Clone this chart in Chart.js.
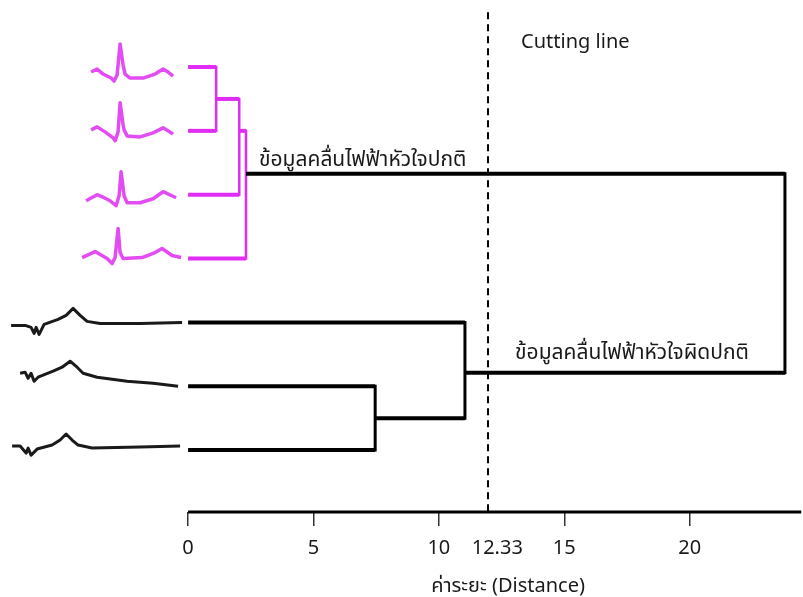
<!DOCTYPE html>
<html>
<head>
<meta charset="utf-8">
<script src="https://cdn.jsdelivr.net/npm/chart.js@4/dist/chart.umd.min.js"></script>
<style>
  html, body { margin: 0; padding: 0; background: #fff; }
  #wrap { width: 803px; height: 597px; }
</style>
</head>
<body>
<div id="wrap"><canvas id="dendro"></canvas></div>
<script>
// --- axis ticks ---
const tickValues = [0, 5, 10, 12.33, 15, 20];
const cutLineAt = 11.96;
const axisTitle = 'ค่าระยะ (Distance)';

// --- leaves (rows from top) ---
const leafRows = [0, 1, 2, 3, 4, 5, 6];

// --- merges: children, distance, row of merged node ---
const mergeLeft = ['L0', 'M0', 'M1', 'L5', 'L4', 'M2'];
const mergeRight = ['L1', 'L2', 'L3', 'L6', 'M3', 'M4'];
const mergeDistance = [1.12, 2.04, 2.31, 7.46, 11.04, 23.8];
const mergeRow = [0.5, 1.0, 1.67, 5.5, 4.79, null];
const mergeGroup = ['normal', 'normal', 'normal', 'abnormal', 'abnormal', 'root'];

// --- ECG traces: [time, amplitude] ---
const ecgNormal1 = [[-97,-5],[-91,-2],[-85,-7],[-77,-11],[-74,-14],[-71,-8],[-68,23],[-65,2],[-63,-7],[-58,-11],[-45,-11],[-33,-7],[-25,-2],[-20,-5],[-15,-9]];
const ecgNormal2 = [[-97,1],[-91,4],[-83,-1],[-75,-7],[-73,-10],[-70,-1],[-68,28],[-65,6],[-64,1],[-61,-5],[-48,-6],[-35,-2],[-25,3],[-15,-3]];
const ecgNormal3 = [[-102,-6],[-91,0],[-84,-3],[-78,-6],[-72,-11],[-69,-1],[-67,23],[-64,-1],[-61,-8],[-48,-8],[-35,-4],[-25,3],[-12,-3]];
const ecgNormal4 = [[-106,1],[-93,7],[-81,0],[-76,-5],[-73,1],[-70,30],[-68,6],[-65,0],[-46,1],[-33,6],[-26,10],[-16,3],[-7,1]];
const ecgAbnormal1 = [[-177,-3],[-163,-3],[-157,-5],[-154,-11],[-152,-5],[-149,-12],[-144,-2],[-130,3],[-122,7],[-115,14],[-108,7],[-101,1],[-88,-1],[-48,-1],[-6,0]];
const ecgAbnormal2 = [[-168,13],[-163,14],[-160,8],[-157,13],[-154,5],[-150,9],[-135,15],[-126,19],[-118,25],[-111,19],[-105,13],[-91,9],[-61,5],[-35,3],[-10,0]];
const ecgAbnormal3 = [[-176,4],[-168,4],[-162,-3],[-160,2],[-157,-5],[-151,1],[-136,5],[-128,10],[-122,16],[-116,10],[-110,5],[-96,2],[-48,3],[-8,4]];

const ecgTraces = [ecgNormal1, ecgNormal2, ecgNormal3, ecgNormal4, ecgAbnormal1, ecgAbnormal2, ecgAbnormal3];
const traceTimeScale = 1 / 25.08;   // distance units per time unit
const traceAmpScale = 1 / 63.7;     // rows per amplitude unit

const MAGENTA = '#e02cf5';
const MAGENTA_TRACE = '#e24cf2';
const BLACK = '#000000';

const fontFamily = "'Noto Sans', 'Noto Sans Thai', 'DejaVu Sans', sans-serif";

// --- build datasets ---
const nodeInfo = (id) => {
  const i = parseInt(id.slice(1), 10);
  if (id[0] === 'L') return { row: leafRows[i], dist: 0 };
  return { row: mergeRow[i], dist: mergeDistance[i] };
};

const horizontals = [];
const verticals = [];
mergeDistance.forEach((d, i) => {
  const color = mergeGroup[i] === 'normal' ? MAGENTA : BLACK;
  const a = nodeInfo(mergeLeft[i]);
  const b = nodeInfo(mergeRight[i]);
  [a, b].forEach(c => {
    horizontals.push({
      data: [{ x: c.dist, y: c.row }, { x: d, y: c.row }],
      borderColor: color, borderWidth: 4, borderCapStyle: 'butt'
    });
  });
  verticals.push({
    data: [{ x: d, y: a.row }, { x: d, y: b.row }],
    borderColor: color, borderWidth: mergeGroup[i] === 'normal' ? 2.5 : 3, borderCapStyle: 'square'
  });
});

const traces = ecgTraces.map((tr, i) => ({
  data: tr.map(p => ({ x: p[0] * traceTimeScale, y: leafRows[i] - p[1] * traceAmpScale })),
  borderColor: i < 4 ? MAGENTA_TRACE : '#1a1a1a',
  borderWidth: i < 4 ? 3.5 : 3,
  borderJoinStyle: 'round'
}));

const cutDataset = {
  data: [{ x: cutLineAt, y: -0.86 }, { x: cutLineAt, y: 6.97 }],
  borderColor: BLACK, borderWidth: 2, borderDash: [7, 5]
};

const datasets = [...traces, ...horizontals, ...verticals, cutDataset].map(ds => ({
  ...ds, showLine: true, pointRadius: 0, tension: 0, fill: false
}));

// --- text labels and axis line ---
const textLabels = [
  { text: 'Cutting line', x: 13.28, y: -0.39, size: 20 },
  { text: 'ข้อมูลคลื่นไฟฟ้าหัวใจปกติ', x: 2.83, y: 1.45, size: 21 },
  { text: 'ข้อมูลคลื่นไฟฟ้าหัวใจผิดปกติ', x: 13.04, y: 4.48, size: 21 }
];

const extrasPlugin = {
  id: 'extras',
  afterDatasetsDraw(chart) {
    const { ctx, scales: { x, y }, chartArea } = chart;
    ctx.save();
    // axis line from 0 to the right edge
    ctx.strokeStyle = BLACK;
    ctx.lineWidth = 3;
    ctx.beginPath();
    ctx.moveTo(x.getPixelForValue(0), chartArea.bottom);
    ctx.lineTo(x.getPixelForValue(24.45), chartArea.bottom);
    ctx.stroke();
    // labels
    ctx.fillStyle = '#1a1a1a';
    ctx.textBaseline = 'middle';
    ctx.textAlign = 'left';
    textLabels.forEach(l => {
      ctx.font = l.size + 'px ' + fontFamily;
      ctx.fillText(l.text, x.getPixelForValue(l.x), y.getPixelForValue(l.y));
    });
    // axis title, centred under the distance range
    ctx.font = '20px ' + fontFamily;
    ctx.textAlign = 'center';
    ctx.fillText(axisTitle, x.getPixelForValue(12.76), chartArea.bottom + 74);
    ctx.restore();
  }
};

new Chart(document.getElementById('dendro'), {
  type: 'scatter',
  data: { datasets },
  options: {
    responsive: true,
    maintainAspectRatio: false,
    animation: false,
    layout: { padding: { left: 0, right: 0, top: 0, bottom: 27 } },
    plugins: { legend: { display: false }, tooltip: { enabled: false } },
    scales: {
      x: {
        type: 'linear',
        min: -7.5,
        max: 24.52,
        afterBuildTicks: (scale) => { scale.ticks = tickValues.map(v => ({ value: v })); },
        border: { display: false },
        grid: {
          drawOnChartArea: false,
          drawTicks: true,
          tickLength: 14,
          lineWidth: 1.5,
          color: (c) => (c.tick && c.tick.value === 12.33) ? 'rgba(0,0,0,0)' : '#333'
        },
        ticks: {
          autoSkip: false,
          maxRotation: 0,
          padding: 10,
          color: '#1a1a1a',
          font: { size: 20, family: fontFamily },
          callback: (v) => String(v)
        }
      },
      y: {
        type: 'linear',
        display: false,
        reverse: true,
        min: -1.05,
        max: 6.97
      }
    }
  },
  plugins: [extrasPlugin]
});
</script>
</body>
</html>
